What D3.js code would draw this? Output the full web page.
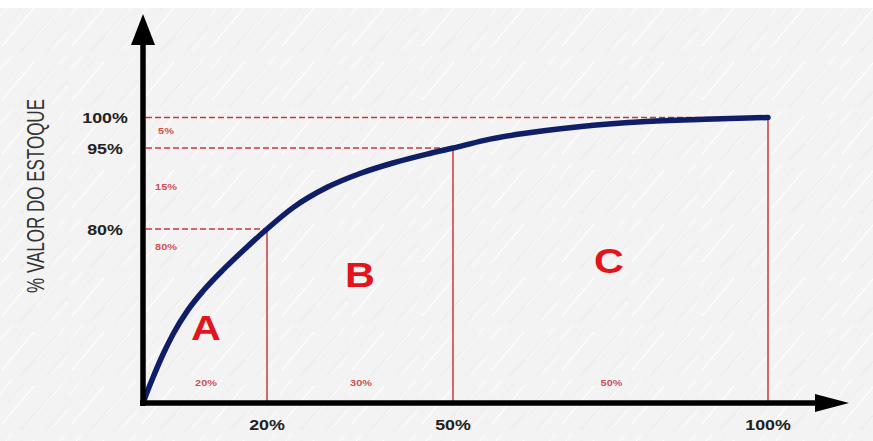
<!DOCTYPE html>
<html>
<head>
<meta charset="utf-8">
<script src="https://cdn.jsdelivr.net/npm/d3@7"></script>
<style>
  html, body { margin: 0; padding: 0; background: #fff; }
  svg { display: block; }
</style>
</head>
<body>
<svg id="chart" width="873" height="441"></svg>
<script>
// ABC inventory curve: cumulative % of items (x) vs cumulative % of stock value (y)
const curveX = [0, 0.65, 1.61, 3.23, 4.84, 7.26, 9.68, 12.9, 16.13, 20, 24.2, 29.7, 35, 40.3, 45.8, 50, 55, 60, 70, 80, 90, 100];
const curveY = [0, 4.9, 11.7, 22.4, 31.6, 42.8, 51.5, 61.2, 70.0, 80, 83.96, 87.72, 90.28, 92.22, 93.87, 95, 96.25, 97.2, 98.5, 99.3, 99.7, 100];

// Class boundaries
const xBreaks = [20, 50, 100];
const yBreaks = [80, 95, 100];
const xTickLabels = ["20%", "50%", "100%"];
const yTickLabels = ["80%", "95%", "100%"];

// Class letters and the share each band holds
const classNames = ["A", "B", "C"];
const classItemShare = ["20%", "30%", "50%"];
const bandValueShare = ["80%", "15%", "5%"];
const yTitle = "% VALOR DO ESTOQUE";

const svg = d3.select("#chart");
const W = 873, H = 441;

// piecewise scales (schematic spacing of the classes)
const x = d3.scaleLinear().domain([0, 20, 50, 100]).range([143, 267, 453, 768]);
const y = d3.scaleLinear().domain([0, 80, 95, 100]).range([403, 229, 148, 117.5]);

// ---- textured paper background ----
const defs = svg.append("defs");
const pat = defs.append("pattern")
  .attr("id", "paper").attr("patternUnits", "userSpaceOnUse")
  .attr("width", 70).attr("height", 54);
pat.append("rect").attr("width", 70).attr("height", 54).attr("fill", "#f3f3f3");
const strokes = [[2, 46, 34, 8, "#fdfdfd", 1.3], [20, 52, 58, 10, "#e3e3e3", 0.6],
                 [36, 36, 66, 2, "#fbfbfb", 1.1], [6, 26, 26, 3, "#e6e6e6", 0.5],
                 [44, 54, 70, 24, "#e9e9e9", 0.7], [0, 16, 12, 2, "#ffffff", 0.9],
                 [52, 50, 68, 32, "#fefefe", 1.0]];
strokes.forEach(s => pat.append("line")
  .attr("x1", s[0]).attr("y1", s[1]).attr("x2", s[2]).attr("y2", s[3])
  .attr("stroke", s[4]).attr("stroke-width", s[5]));
svg.append("rect").attr("width", W).attr("height", H).attr("fill", "url(#paper)");
svg.append("rect").attr("width", W).attr("height", 8).attr("fill", "#ffffff");

// ---- guide lines ----
const red = "#c8383c";
const g = svg.append("g");
yBreaks.forEach((v, i) => {
  g.append("line")
    .attr("x1", x(0) + 3).attr("x2", x(xBreaks[i]))
    .attr("y1", y(v)).attr("y2", y(v))
    .attr("stroke", red).attr("stroke-width", 1.3)
    .attr("stroke-dasharray", "6,3");
});
xBreaks.forEach((v, i) => {
  g.append("line")
    .attr("x1", x(v)).attr("x2", x(v))
    .attr("y1", y(0)).attr("y2", y(yBreaks[i]))
    .attr("stroke", red).attr("stroke-width", 1.5);
});

// ---- the curve ----
const pts = curveX.map((v, i) => [v, curveY[i]]);
svg.append("path")
  .datum(pts)
  .attr("fill", "none")
  .attr("stroke", "#0f1e66")
  .attr("stroke-width", 5.5)
  .attr("stroke-linecap", "round")
  .attr("d", d3.line().x(d => x(d[0])).y(d => y(d[1])).curve(d3.curveMonotoneX));

// ---- axes with arrow heads ----
const ax = svg.append("g").attr("fill", "#000");
ax.append("line").attr("x1", x(0)).attr("x2", x(0)).attr("y1", y(0) + 3).attr("y2", 40)
  .attr("stroke", "#000").attr("stroke-width", 5.5);
ax.append("path").attr("d", `M${x(0)},14 L${x(0) - 12},45 L${x(0) + 12},45 Z`);
ax.append("line").attr("x1", x(0) - 3).attr("x2", 820).attr("y1", y(0)).attr("y2", y(0))
  .attr("stroke", "#000").attr("stroke-width", 5.5);
ax.append("path").attr("d", `M849,${y(0)} L815,${y(0) - 9} L815,${y(0) + 9} Z`);

// text helper: slightly widened glyphs
const font = "Liberation Sans, Arial, sans-serif";
function label(px, py, txt, size, weight, fill, opts = {}) {
  const t = svg.append("g").attr("transform", `translate(${px},${py}) scale(1.15,1)`)
    .append("text")
    .attr("text-anchor", "middle")
    .attr("font-family", font).attr("font-weight", weight).attr("font-size", size)
    .attr("fill", fill).text(txt);
  if (opts.dy) t.attr("dy", opts.dy);
  if (opts.opacity) t.attr("fill-opacity", opts.opacity);
  return t;
}

// ---- tick labels ----
yBreaks.forEach((v, i) => label(105, y(v), yTickLabels[i], 15.5, "bold", "#222", { dy: "0.36em" }));
xBreaks.forEach((v, i) => label(x(v), 430, xTickLabels[i], 15.5, "bold", "#222"));

// ---- axis title ----
svg.append("text")
  .attr("transform", "translate(44,196) scale(1.15,1) rotate(-90) scale(0.85,1)")
  .attr("text-anchor", "middle")
  .attr("font-family", font).attr("font-size", 20)
  .attr("fill", "#333").text(yTitle);

// ---- small share labels ----
const bandLabelY = [247, 187, 131];
bandValueShare.forEach((t, i) => label(166, bandLabelY[i], t, 9.5, "bold", red, { dy: "0.35em", opacity: 0.9 }));
const xLo = [0, 20, 50];
classItemShare.forEach((t, i) =>
  label((x(xLo[i]) + x(xBreaks[i])) / 2 + 1, 383, t, 9.5, "bold", red, { dy: "0.35em", opacity: 0.9 }));

// ---- class letters ----
const letterPos = [[206, 340], [360, 287], [609, 273]];
classNames.forEach((t, i) => label(letterPos[i][0], letterPos[i][1], t, 36, "bold", "#e3141b"));
</script>
</body>
</html>
